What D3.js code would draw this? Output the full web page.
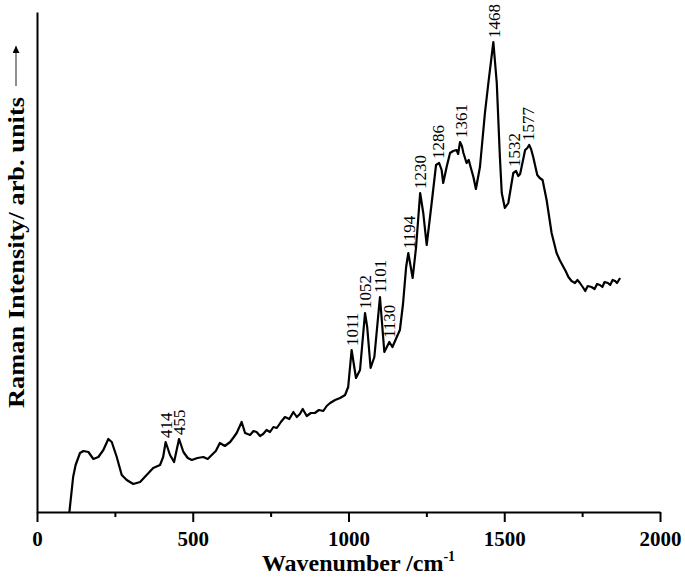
<!DOCTYPE html>
<html>
<head>
<meta charset="utf-8">
<script src="https://cdn.jsdelivr.net/npm/d3@7"></script>
<style>
  body { margin: 0; background: #fff; }
  text { font-family: "Liberation Serif", "Times New Roman", serif; }
</style>
</head>
<body>
<div id="wrapper"></div>
<script>

// 1. Data (intensity in arbitrary units)
const wavenumbers = [104, 116, 124, 138, 149, 165, 181, 197, 213, 229, 240, 256, 272, 288, 309, 331, 352, 373, 395, 405,
    413, 427, 440, 456, 470, 484, 497, 515, 534, 548, 561, 574, 587, 603, 620, 632, 641, 657, 668, 684, 695, 705, 716, 726,
    737, 748, 759, 770, 783, 796, 810, 823, 834, 844, 853, 866, 879, 892, 905, 919, 930, 941, 957, 973, 989, 999,
    1010, 1024, 1037, 1053, 1060, 1071, 1083, 1101, 1115, 1131, 1141, 1155, 1165, 1175, 1185, 1192, 1206, 1217,
    1230, 1240, 1251, 1267, 1281, 1291, 1299, 1304, 1315, 1326, 1336, 1347, 1352, 1358, 1364, 1369, 1379, 1386, 1392,
    1401, 1409, 1422, 1438, 1449, 1465, 1476, 1486, 1492, 1502, 1513, 1529, 1538, 1545, 1551, 1567, 1574, 1580, 1586,
    1593, 1606, 1614, 1623, 1636, 1652, 1668, 1678, 1690, 1697, 1706, 1716, 1727, 1735, 1743, 1754, 1760, 1768, 1780,
    1790, 1798, 1807, 1815, 1822, 1833, 1840, 1848, 1856, 1862, 1872]
const intensities = [0, 35, 47, 59, 61, 60, 53, 55, 62, 73, 70, 55, 37, 32, 28, 30, 37, 44, 47, 55,
    70, 57, 50, 73, 60, 54, 52, 54, 55, 53, 57, 61, 69, 66, 70, 75, 79, 90, 79, 77, 81, 80, 76, 78,
    82, 80, 85, 84, 90, 95, 93, 100, 95, 98, 103, 96, 99, 99, 102, 101, 106, 109, 112, 114, 117, 125,
    162, 134, 142, 199, 185, 144, 155, 215, 160, 170, 165, 175, 182, 208, 245, 259, 234, 265,
    319, 299, 267, 309, 347, 349, 342, 329, 345, 359, 361, 362, 358, 370, 366, 359, 349, 352, 345,
    335, 323, 345, 399, 429, 470, 429, 355, 319, 304, 309, 339, 341, 336, 338, 362, 364, 367, 363,
    355, 337, 334, 332, 312, 279, 259, 252, 245, 241, 235, 231, 229, 232, 229, 224, 221, 226, 225,
    223, 228, 227, 225, 230, 229, 227, 232, 231, 229, 234]

const peakLabels = [414, 455, 1011, 1052, 1101, 1130, 1194, 1230, 1286, 1361, 1468, 1532, 1577]
const xTicks = [0, 500, 1000, 1500, 2000]
const xMinorTicks = [250, 750, 1250, 1750]

const data = wavenumbers.map((w, i) => ({w: w, v: intensities[i]}))

// 2. Dimensions
let dimensions = {
    width: 685,
    height: 578,
    margin: {top: 12, right: 25, bottom: 66, left: 37},
}
dimensions.boundedWidth = dimensions.width - dimensions.margin.left - dimensions.margin.right
dimensions.boundedHeight = dimensions.height - dimensions.margin.top - dimensions.margin.bottom

const wrapper = d3.select("#wrapper")
    .append("svg")
    .attr("width", dimensions.width)
    .attr("height", dimensions.height)

const bounds = wrapper.append("g")
    .attr("transform", `translate(${dimensions.margin.left}, ${dimensions.margin.top})`)

// 3. Scales
const xScale = d3.scaleLinear()
    .domain([0, 2000])
    .range([0, dimensions.boundedWidth])

const yScale = d3.scaleLinear()
    .domain([0, 500])
    .range([dimensions.boundedHeight, 0])

// 4. Spectrum
const line = d3.line()
    .x(d => xScale(d.w))
    .y(d => yScale(d.v))

bounds.append("path")
    .datum(data)
    .attr("fill", "none")
    .attr("stroke", "#000")
    .attr("stroke-width", 2.2)
    .attr("stroke-linejoin", "round")
    .attr("d", line)

// Peak labels, placed just above the local max near each wavenumber
const peakValue = w => d3.max(data.filter(d => Math.abs(d.w - w) <= 8), d => d.v)

bounds.append("g")
    .selectAll("text")
    .data(peakLabels)
    .join("text")
    .attr("transform", d => `translate(${xScale(d)}, ${yScale(peakValue(d)) - 4}) rotate(-90)`)
    .attr("dy", "0.35em")
    .attr("text-anchor", "start")
    .style("font-size", "17px")
    .text(d => d)

// 5. Axes
const xAxis = d3.axisBottom(xScale)
    .tickValues(xTicks)
    .tickSize(10)
    .tickSizeOuter(0)
    .tickFormat(d3.format("d"))

const xAxisGroup = bounds.append("g")
    .attr("transform", `translate(0, ${dimensions.boundedHeight})`)
    .call(xAxis)

xAxisGroup.select(".domain").attr("stroke-width", 2)
xAxisGroup.selectAll(".tick line").attr("stroke-width", 2)
xAxisGroup.selectAll(".tick text")
    .attr("y", 19)
    .attr("dy", "0.71em")
    .style("font-family", "'Liberation Serif', serif")
    .style("font-size", "21px")
    .style("font-weight", "bold")

const xMinor = d3.axisBottom(xScale)
    .tickValues(xMinorTicks)
    .tickSize(5)
    .tickSizeOuter(0)
    .tickFormat("")

const xMinorGroup = bounds.append("g")
    .attr("transform", `translate(0, ${dimensions.boundedHeight})`)
    .call(xMinor)
xMinorGroup.select(".domain").remove()
xMinorGroup.selectAll(".tick line").attr("stroke-width", 2)

const yAxisGroup = bounds.append("g")
    .call(d3.axisLeft(yScale).tickValues([]).tickSizeOuter(0))
yAxisGroup.select(".domain").attr("stroke-width", 2)

// Axis titles
const xTitle = wrapper.append("text")
    .attr("x", dimensions.margin.left + dimensions.boundedWidth / 2 + 10)
    .attr("y", 571)
    .attr("text-anchor", "middle")
    .style("font-size", "24px")
    .style("font-weight", "bold")
xTitle.append("tspan").text("Wavenumber /cm")
xTitle.append("tspan").attr("dy", "-10").style("font-size", "14px").text("-1")

wrapper.append("text")
    .attr("transform", "translate(24, 408) rotate(-90)")
    .attr("text-anchor", "start")
    .attr("textLength", 311)
    .attr("lengthAdjust", "spacingAndGlyphs")
    .style("font-size", "24px")
    .style("font-weight", "bold")
    .text("Raman Intensity/ arb. units")

// arrow after the y title
wrapper.append("defs").append("marker")
    .attr("id", "arrowHead")
    .attr("viewBox", "0 0 10 10")
    .attr("refX", 10)
    .attr("refY", 5)
    .attr("markerWidth", 11)
    .attr("markerHeight", 7)
    .attr("markerUnits", "userSpaceOnUse")
    .attr("orient", "auto")
    .append("path")
    .attr("d", "M0,0 L10,5 L0,10 Z")
    .attr("fill", "#000")

wrapper.append("line")
    .attr("x1", 16).attr("y1", 86)
    .attr("x2", 16).attr("y2", 46)
    .attr("stroke", "#555")
    .attr("stroke-width", 1.3)
    .attr("marker-end", "url(#arrowHead)")

</script>
</body>
</html>
